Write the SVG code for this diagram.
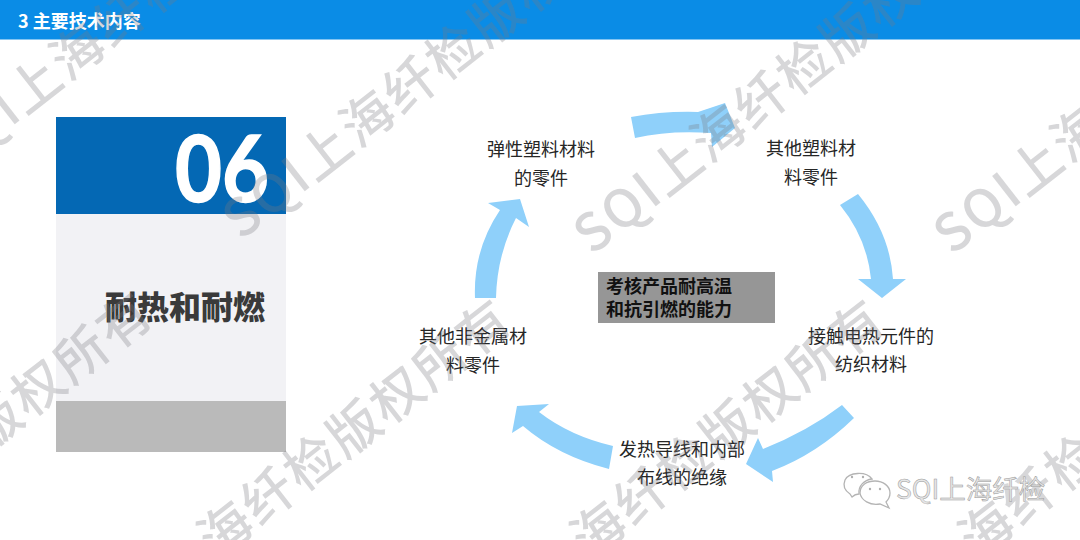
<svg xmlns="http://www.w3.org/2000/svg" width="1080" height="540" viewBox="0 0 1080 540">
<style>
text{font-family:"Noto Sans CJK SC","Liberation Sans",sans-serif}
.lbl{font-size:18px;fill:#262626;text-anchor:middle}
.arr{fill:#8fd0fa}
.wm{font-size:52px;font-weight:500;letter-spacing:2.500px;fill:#7c7c80;fill-opacity:.3}
.bub{fill:#fff;stroke:#b4b4b4;stroke-width:1.300}
.dot{fill:#b0b0b0}
</style>
<rect width="1080" height="540" fill="#fff"/>
<rect id="header" width="1080" height="39.500" fill="#0a8ce6"/>
<text x="18" y="28" font-size="18" font-weight="700" fill="#fff">3 主要技术内容</text>
<g id="card">
<rect x="56" y="117" width="230" height="97" fill="#0468b4"/>
<rect x="56" y="214" width="230" height="187" fill="#f2f2f5"/>
<rect x="56" y="401" width="230" height="51" fill="#bababa"/>
<text transform="translate(269 202) scale(.88 1)" text-anchor="end" style="font-family:Lato,'Liberation Sans',sans-serif" font-size="92" font-weight="700" fill="#fff" stroke="#fff" stroke-width="1.500">06</text>
<text x="185" y="319" text-anchor="middle" font-size="32" font-weight="900" fill="#3a3a3a">耐热和耐燃</text>
</g>
<g id="connectors">
<path class="arr" d="M631 117Q663 111 698 112L725 103 735 128 712 147 711 133Q670 130 635 138Z"/>
<path class="arr" d="M840 205L858 194Q890 233 893 279L906 279 882 298 858 279 871 279Q867 238 840 205Z"/>
<path class="arr" d="M475 298L496 298Q497 255 516 218L529 227 520 199 488 203 500 210Q473 250 475 298Z"/>
<path class="arr" d="M842 405L854 418Q817 454 772 471L773 482 746 464 758 438 763 449Q808 431 842 405Z"/>
<path class="arr" d="M613 446L609 469Q558 456 523 426L512 433 517 406 549 404 539 412Q570 436 613 446Z"/>
</g>
<g id="center"><rect x="598" y="272" width="177" height="51" fill="#969696"/>
<text x="606" y="293" font-size="18" font-weight="700" fill="#111">考核产品耐高温</text>
<text x="606" y="316" font-size="18" font-weight="700" fill="#111">和抗引燃的能力</text></g>
<g id="n1"><text class="lbl" x="541" y="156">弹性塑料材料</text><text class="lbl" x="541" y="185">的零件</text></g>
<g id="n2"><text class="lbl" x="811" y="155">其他塑料材</text><text class="lbl" x="811" y="184">料零件</text></g>
<g id="n3"><text class="lbl" x="871" y="343">接触电热元件的</text><text class="lbl" x="871" y="371">纺织材料</text></g>
<g id="n4"><text class="lbl" x="682" y="456">发热导线和内部</text><text class="lbl" x="682" y="484">布线的绝缘</text></g>
<g id="n5"><text class="lbl" x="473" y="343">其他非金属材</text><text class="lbl" x="473" y="372">料零件</text></g>
<g id="watermark">
<text class="wm" transform="translate(-49 174) rotate(-38)">SQI上海纤检版权所有</text>
<text class="wm" transform="translate(241 241) rotate(-38)">SQI上海纤检版权所有</text>
<text class="wm" transform="translate(592 256) rotate(-38)">SQI上海纤检版权所有</text>
<text class="wm" transform="translate(952 256) rotate(-38)">SQI上海纤检版权所有</text>
<text class="wm" transform="translate(-260 645) rotate(-38)">SQI上海纤检版权所有</text>
<text class="wm" transform="translate(99 652) rotate(-38)">SQI上海纤检版权所有</text>
<text class="wm" transform="translate(472 652) rotate(-38)">SQI上海纤检版权所有</text>
<text class="wm" transform="translate(860 652) rotate(-38)">SQI上海纤检版权所有</text>
</g>
<g id="logo">
<text x="896" y="499" font-size="26.500" fill="#e6e6e6" stroke="#9a9a9a" stroke-width=".5">SQI上海纤检</text>
<path class="bub" d="M850 494C844 490 843 485 845 480 849 472 866 471 872 479 864 480 858 486 859 494 856 494 854 495 852 497Z"/>
<path class="bub" d="M880 504C870 506 861 500 860 493 860 485 867 481 875 481 883 481 890 486 890 493 890 497 888 500 886 502L889 508Z"/>
<circle class="dot" cx="852" cy="477" r="1.200"/><circle class="dot" cx="863" cy="477" r="1.200"/>
<circle class="dot" cx="870" cy="489" r="1.200"/><circle class="dot" cx="880" cy="489" r="1.200"/>
</g>
</svg>
